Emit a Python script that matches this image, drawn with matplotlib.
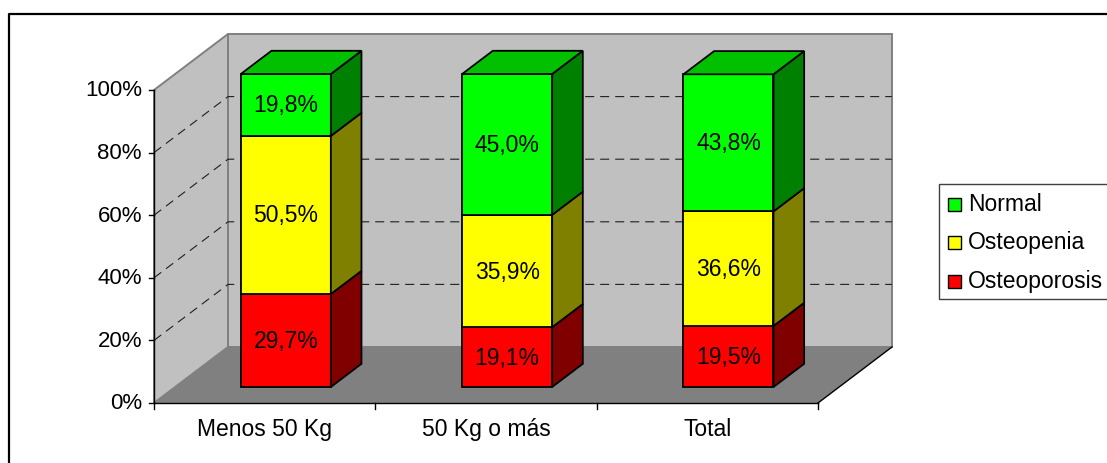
import matplotlib
matplotlib.use("Agg")
import matplotlib.pyplot as plt
from matplotlib.patches import Polygon, Rectangle
from matplotlib.lines import Line2D

plt.rcParams["font.family"] = ["Liberation Sans", "DejaVu Sans"]
plt.rcParams["lines.scale_dashes"] = False

# ---- data -------------------------------------------------------------
categories = ["Menos 50 Kg", "50 Kg o más", "Total"]
series_names = ["Osteoporosis", "Osteopenia", "Normal"]
osteoporosis = [29.7, 19.1, 19.5]
osteopenia = [50.5, 35.9, 36.6]
normal = [19.8, 45.0, 43.8]
y_ticks = [0, 20, 40, 60, 80, 100]
y_tick_labels = ["0%", "20%", "40%", "60%", "80%", "100%"]

series_values = [osteoporosis, osteopenia, normal]
front_colors = ["#FF0000", "#FFFF00", "#00FF00"]
side_colors = ["#800000", "#808000", "#008000"]
top_colors = ["#C00000", "#C0C000", "#00C000"]

# ---- figure / axes ----------------------------------------------------
W, H = 1107, 464
fig = plt.figure(figsize=(W / 100, H / 100), dpi=100)
fig.patch.set_facecolor("white")

ax_left, ax_right, ax_bottom, ax_top = 154, 818, 404, 91  # pixel box of the front plot plane
ax = fig.add_axes([ax_left / W, (H - ax_bottom) / H,
                   (ax_right - ax_left) / W, (ax_bottom - ax_top) / H])
ax.set_xlim(0, len(categories))
ax.set_ylim(0, 100)
ax.axis("off")

px_x = (ax_right - ax_left) / len(categories)   # pixels per category
px_y = (ax_bottom - ax_top) / 100.0             # pixels per percent
DX = 74 / px_x      # depth offset along x (data units) for full depth
DY = 56 / px_y      # depth offset along y (data units) for full depth


def proj(x, y, z):
    return (x + z * DX, y + z * DY)


def poly(pts, fc, ec, lw, z=1):
    p = Polygon(pts, closed=True, facecolor=fc, edgecolor=ec, linewidth=lw,
                clip_on=False, zorder=z, joinstyle="miter")
    ax.add_patch(p)


n = len(categories)
# walls and floor
poly([proj(0, 0, 1), proj(n, 0, 1), proj(n, 100, 1), proj(0, 100, 1)],
     "#C0C0C0", "#808080", 1.4, z=1)
poly([proj(0, 0, 0), proj(0, 0, 1), proj(0, 100, 1), proj(0, 100, 0)],
     "#C0C0C0", "#808080", 1.4, z=1)
poly([proj(0, 0, 0), proj(n, 0, 0), proj(n, 0, 1), proj(0, 0, 1)],
     "#808080", "none", 0, z=1)
# floor right edge
ax.add_line(Line2D(*zip(proj(n, 0, 0), proj(n, 0, 1)), color="black",
                   lw=1.0, clip_on=False, zorder=2))

# dashed gridlines on side and back walls
for v in y_ticks[1:-1]:
    a, b, c = proj(0, v, 0), proj(0, v, 1), proj(n, v, 1)
    ax.add_line(Line2D([a[0], b[0], c[0]], [a[1], b[1], c[1]], color="#202020",
                       lw=0.8, ls=(0, (6.5, 4.3)), clip_on=False, zorder=2))

# axes lines and ticks
ax.add_line(Line2D([0, 0], [0, 100], color="black", lw=1.0, clip_on=False, zorder=3))
ax.add_line(Line2D([0, n], [0, 0], color="black", lw=1.0, clip_on=False, zorder=3))
for v, lab in zip(y_ticks, y_tick_labels):
    ax.add_line(Line2D([-5 / px_x, 0], [v, v], color="black", lw=1.0,
                       clip_on=False, zorder=3))
    ax.text(-12 / px_x, v, lab, ha="right", va="center", fontsize=16,
            clip_on=False)
for i in range(n + 1):
    ax.add_line(Line2D([i, i], [0, -6 / px_y], color="black", lw=1.0,
                       clip_on=False, zorder=3))
for i, cat in enumerate(categories):
    ax.text(i + 0.5, -26 / px_y, cat, ha="center", va="center", fontsize=16.5,
            clip_on=False)

# 3D stacked bars
bar_w = 90 / px_x
z0, z1 = 0.286, 0.70
for i in range(n):
    x0 = i + 0.5 - bar_w / 2
    x1 = x0 + bar_w
    bottom = 0.0
    for s, vals in enumerate(series_values):
        v = vals[i]
        top = bottom + v
        zo = 5 + s
        # front face
        poly([proj(x0, bottom, z0), proj(x1, bottom, z0), proj(x1, top, z0),
              proj(x0, top, z0)], front_colors[s], "black", 1.3, z=zo)
        # right side face
        poly([proj(x1, bottom, z0), proj(x1, bottom, z1), proj(x1, top, z1),
              proj(x1, top, z0)], side_colors[s], "black", 1.3, z=zo)
        if s == len(series_values) - 1:
            poly([proj(x0, top, z0), proj(x1, top, z0), proj(x1, top, z1),
                  proj(x0, top, z1)], top_colors[s], "black", 1.3, z=zo)
        lx, ly = proj(i + 0.5, bottom + v / 2, z0)
        ax.text(lx, ly, f"{v:.1f}%".replace(".", ","), ha="center", va="center",
                fontsize=16.5, zorder=20, clip_on=False)
        bottom = top

# legend
def fx(px):
    return px / W


def fy(py):
    return 1 - py / H


fig.add_artist(Rectangle((fx(939), fy(300)), fx(1200) - fx(939), fy(185) - fy(300),
                         transform=fig.transFigure, facecolor="white",
                         edgecolor="#404040", linewidth=1.0))
legend_rows = [("Normal", 2, 205), ("Osteopenia", 1, 243), ("Osteoporosis", 0, 282)]
for name, s, yc in legend_rows:
    fig.add_artist(Rectangle((fx(948), fy(yc + 7)), fx(13), 13 / H,
                             transform=fig.transFigure, facecolor=front_colors[s],
                             edgecolor="black", linewidth=1.0))
    fig.text(fx(968), fy(yc), name, ha="left", va="center", fontsize=16.5)

# outer chart frame
fig.add_artist(Line2D([fx(8.5), fx(8.5), 1.01], [-0.01, fy(15), fy(15)],
                      transform=fig.transFigure, color="black", lw=1.6))

fig.savefig("out.png", dpi=100)
